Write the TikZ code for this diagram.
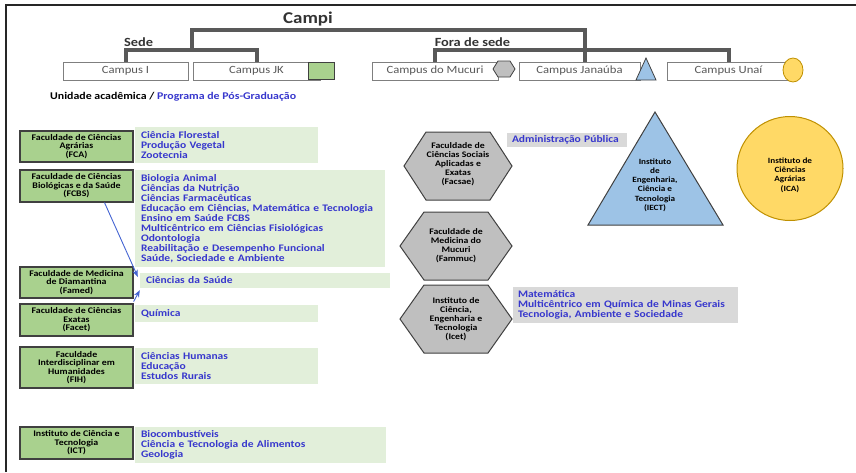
\documentclass[tikz,border=0pt]{standalone}
\usepackage{fontspec}
\setmainfont{Carlito}[FakeStretch=1.15]
\usetikzlibrary{arrows.meta,calc}
\definecolor{greenD}{RGB}{169,209,142}
\definecolor{greenL}{RGB}{226,239,218}
\definecolor{grayH}{RGB}{191,191,191}
\definecolor{grayL}{RGB}{217,217,217}
\definecolor{blueTri}{RGB}{157,195,230}
\definecolor{yellowC}{RGB}{255,217,102}
\definecolor{goldB}{RGB}{191,144,0}
\definecolor{treegray}{RGB}{89,89,89}
\definecolor{campusgray}{RGB}{127,127,127}
\definecolor{textgray}{RGB}{89,89,89}
\definecolor{blueT}{RGB}{55,55,205}
\definecolor{arrowblue}{RGB}{68,100,210}
\tikzset{
  campus/.style={draw=campusgray, line width=0.9pt, fill=white, minimum height=18pt, inner sep=0pt, font=\fontsize{11}{12}\selectfont, text=textgray},
  tree/.style={line width=4pt, draw=treegray},
  unit/.style={draw=black!75, line width=1.2pt, fill=greenD, align=center, inner sep=0pt, minimum width=113pt, font=\bfseries\fontsize{8.6}{8.5}\selectfont},
  prog/.style={fill=greenL, inner xsep=6pt, inner ysep=0pt, align=left, text=blueT, font=\bfseries\fontsize{10}{10}\selectfont},
  progg/.style={prog, fill=grayL, inner xsep=5pt},
  hexa/.style={draw=black!75, line width=1pt, fill=grayH},
  hextext/.style={align=center, inner sep=0pt, font=\bfseries\fontsize{8.5}{9}\selectfont},
  smalltext/.style={align=center, inner sep=0pt, font=\bfseries\fontsize{8}{9.2}\selectfont},
  arr/.style={draw=arrowblue, line width=0.9pt, -{Stealth[length=7pt,width=5.5pt]}},
  head/.style={font=\bfseries\fontsize{12.5}{13}\selectfont, text=black!80, inner sep=0pt}
}
\begin{document}
\begin{tikzpicture}[x=1pt,y=-1pt]
\useasboundingbox (0,0) rectangle (856,472);
% frame
\draw[line width=1.6pt, black!85] (6,472) -- (6,5) -- (856,5);

% headings
\node[head, font=\bfseries\fontsize{16.5}{17}\selectfont] (campi) at (308,19) {Campi};
\node[head] (sede) at (138.5,42) {Sede};
\node[head] (fora) at (472.5,42) {Fora de sede};

% campus boxes
\node[campus, minimum width=125pt] (cI) at (125.5,71) {Campus I};
\node[campus, minimum width=127pt] (cJK) at (256.5,71) {Campus JK};
\node[campus, minimum width=126pt] (cMuc) at (435,71) {Campus do Mucuri};
\node[campus, minimum width=121pt] (cJan) at (579.5,71) {Campus Janaúba};
\node[campus, minimum width=123pt] (cUnai) at (728.5,71) {Campus Unaí};

% tree
\coordinate (sedeMid) at (192,50);
\draw[tree] (cI.north) -- ++(0,-12) -| (cJK.north);
\draw[tree] (cMuc.north) -- ++(0,-12) -| (cUnai.north);
\draw[tree] (sedeMid) |- ($(cJan.north)+(5,-32)$) -- ($(cJan.north)+(5,0)$);

% campus markers
\node[draw=black!75, line width=0.9pt, fill=greenD, minimum width=26pt, minimum height=17pt, inner sep=0pt] (jkmark) at (321,70.5) {};
\draw[hexa, line width=0.8pt] (493,69) -- (498,61) -- (510,61) -- (515,69) -- (510,77) -- (498,77) -- cycle;
\draw[draw=black!75, line width=0.8pt, fill=blueTri] (636,80) -- (656,80) -- (646,58) -- cycle;
\draw[draw=goldB, line width=0.8pt, fill=yellowC] (793,70) ellipse [x radius=10, y radius=12];

% legend
\node[anchor=west, inner sep=0pt, font=\bfseries\fontsize{10.3}{11}\selectfont] (legend) at (50,97) {Unidade acadêmica / \textcolor{blueT}{Programa de Pós-Graduação}};

% left column units
\node[unit, minimum height=31pt] (fca) at (76.5,146.5) {Faculdade de Ciências\\Agrárias\\(FCA)};
\node[unit, minimum height=32pt] (fcbs) at (76.5,186) {Faculdade de Ciências\\Biológicas e da Saúde\\(FCBS)};
\node[unit, minimum height=31pt] (famed) at (76.5,282.5) {Faculdade de Medicina\\de Diamantina\\(Famed)};
\node[unit, minimum height=32pt] (facet) at (76.5,320) {Faculdade de Ciências\\Exatas\\(Facet)};
\node[unit, minimum height=41pt] (fih) at (76.5,367.5) {Faculdade\\Interdisciplinar em\\Humanidades\\(FIH)};
\node[unit, minimum height=32pt] (ict) at (76.5,443) {Instituto de Ciência e\\Tecnologia\\(ICT)};

% programmes
\node[prog, text width=171pt, minimum height=36pt] (pfca) at (226.5,145) {Ciência Florestal\\Produção Vegetal\\Zootecnia};
\node[prog, text width=238pt, minimum height=97pt] (pfcbs) at (260,218.5) {Biologia Animal\\Ciências da Nutrição\\Ciências Farmacêuticas\\Educação em Ciências, Matemática e Tecnologia\\Ensino em Saúde FCBS\\Multicêntrico em Ciências Fisiológicas\\Odontologia\\Reabilitação e Desempenho Funcional\\Saúde, Sociedade e Ambiente};
\node[prog, text width=238pt, minimum height=15pt] (cs) at (265,280.5) {Ciências da Saúde};
\node[prog, text width=171pt, minimum height=17pt] (pfacet) at (226.5,313.5) {Química};
\node[prog, text width=171pt, minimum height=36pt] (pfih) at (226.5,366) {Ciências Humanas\\Educação\\Estudos Rurais};
\node[prog, text width=239pt, minimum height=36pt] (pict) at (260.5,445) {Biocombustíveis\\Ciência e Tecnologia de Alimentos\\Geologia};

% arrows to Ciências da Saúde
\draw[arr] ([xshift=28pt]fcbs.south) -- ([xshift=-2pt,yshift=-4pt]cs.north west);
\draw[arr] ([yshift=-3pt]famed.south east) -- ([yshift=-2pt]cs.south west);

% hexagons
\coordinate (hx1) at (458,166);
\coordinate (hx2) at (456,246);
\coordinate (hx3) at (456,319);
\draw[hexa] ($(hx1)+(-54,0)$) -- ++(22,-34) -- ++(64,0) -- ++(22,34) -- ++(-22,34) -- ++(-64,0) -- cycle;
\draw[hexa] ($(hx2)+(-56,0)$) -- ++(24,-34) -- ++(64,0) -- ++(24,34) -- ++(-24,34) -- ++(-64,0) -- cycle;
\draw[hexa] ($(hx3)+(-56,0)$) -- ++(24,-34) -- ++(64,0) -- ++(24,34) -- ++(-24,34) -- ++(-64,0) -- cycle;
\node[hextext] (facsae) at ($(hx1)+(0,-2)$) {Faculdade de\\Ciências Sociais\\Aplicadas e\\Exatas\\(Facsae)};
\node[hextext] (fammuc) at (hx2) {Faculdade de\\Medicina do\\Mucuri\\(Fammuc)};
\node[hextext] (icet) at (hx3) {Instituto de\\Ciência,\\Engenharia e\\Tecnologia\\(Icet)};

\node[progg, text width=110pt, minimum height=14pt] (adm) at (567,140) {Administração Pública};
\node[progg, text width=215pt, minimum height=36pt] (picet) at (625.5,305) {Matemática\\Multicêntrico em Química de Minas Gerais\\Tecnologia, Ambiente e Sociedade};

% triangle IECT
\draw[draw=black!75, line width=1pt, fill=blueTri] (588,225) -- (723,225) -- (655,112) -- cycle;
\node[smalltext] (iect) at (655,185) {Instituto\\de\\Engenharia,\\Ciência e\\Tecnologia\\(IECT)};

% circle ICA
\draw[draw=goldB, line width=1pt, fill=yellowC] (790,168.5) ellipse [x radius=53, y radius=52];
\node[smalltext] (ica) at (790,175) {Instituto de\\Ciências\\Agrárias\\(ICA)};
\end{tikzpicture}
\end{document}
